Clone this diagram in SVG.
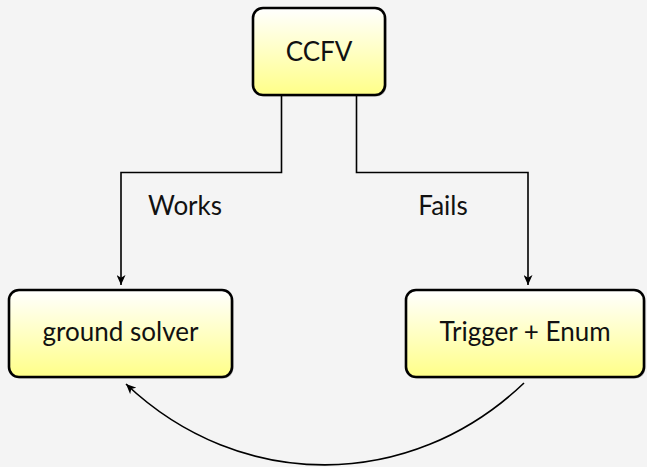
<svg xmlns="http://www.w3.org/2000/svg" width="647" height="467" viewBox="0 0 647 467">
<defs>
<linearGradient id="g" x1="0" y1="0" x2="0" y2="1">
<stop offset="0" stop-color="#ffffff"/>
<stop offset="1" stop-color="#ffff88"/>
</linearGradient>
<marker id="ah" markerWidth="11" markerHeight="9" refX="10" refY="4.5" orient="auto" markerUnits="userSpaceOnUse">
<path d="M0,0 L10,4.5 L0,9 L2.8,4.5 Z" fill="#000"/>
</marker>
</defs>
<style>
.box{fill:url(#g);stroke:#000;stroke-width:2.6}
.sh{fill:#000;opacity:0.25}
.t{font-family:Lato,"Noto Sans",sans-serif;font-size:26px;fill:#111;text-anchor:middle}
.c{fill:none;stroke:#000;stroke-width:1.6}
</style>
<rect width="647" height="467" fill="#f4f4f4"/>
<g id="connectors">
<path class="c" d="M281.5,96 V172.5 H121 V285" marker-end="url(#ah)"/>
<path class="c" d="M356.5,96 V172.5 H528 V285" marker-end="url(#ah)"/>
<path class="c" d="M524,383 C410,492 240,492 126,384" marker-end="url(#ah)"/>
<text class="t" x="185" y="215">Works</text>
<text class="t" x="443" y="215">Fails</text>
</g>
<g id="ccfv">
<rect class="sh" x="254.5" y="9.5" width="132" height="87" rx="10"/>
<rect class="box" x="253" y="8" width="132" height="87" rx="10"/>
<text class="t" x="319" y="61">CCFV</text>
</g>
<g id="ground">
<rect class="sh" x="10.5" y="291.5" width="223" height="87" rx="10"/>
<rect class="box" x="9" y="290" width="223" height="87" rx="10"/>
<text class="t" x="120.5" y="341">ground solver</text>
</g>
<g id="trigger">
<rect class="sh" x="407.5" y="291.5" width="238" height="87" rx="10"/>
<rect class="box" x="406" y="290" width="238" height="87" rx="10"/>
<text class="t" x="525" y="341">Trigger + Enum</text>
</g>
</svg>
